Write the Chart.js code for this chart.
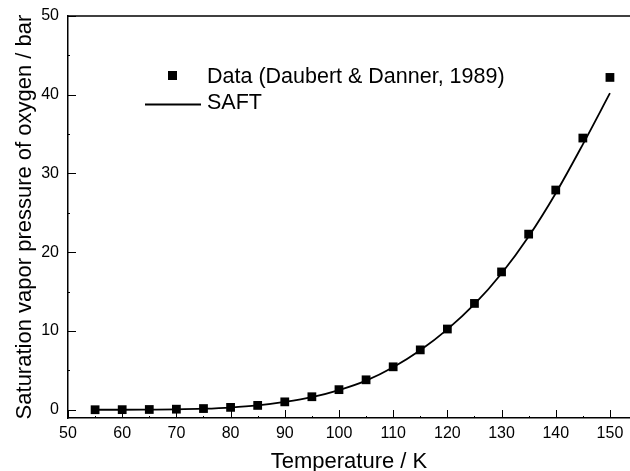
<!DOCTYPE html>
<html>
<head>
<meta charset="utf-8">
<script src="https://cdn.jsdelivr.net/npm/chart.js@4"></script>
<style>
  html, body { margin: 0; padding: 0; background: #fff; }
  #wrap { width: 630px; height: 471px; }
</style>
</head>
<body>
<div id="wrap"><canvas id="myChart"></canvas></div>
<script>
// temperatures (K)
const temps = [55, 60, 65, 70, 75, 80, 85, 90, 95, 100, 105, 110, 115, 120, 125, 130, 135, 140, 145, 150]
// Daubert & Danner data (bar)
const dataPress = [0.0, 0.01, 0.03, 0.07, 0.15, 0.3, 0.55, 1.0, 1.65, 2.55, 3.8, 5.45, 7.6, 10.25, 13.5, 17.5, 22.3, 27.9, 34.5, 42.2]
// SAFT curve (bar)
const saftPress = [0.0, 0.0, 0.02, 0.05, 0.13, 0.28, 0.55, 1.0, 1.6, 2.5, 3.7, 5.4, 7.55, 10.2, 13.4, 17.3, 22.0, 27.5, 33.7, 40.2]
const xTicks = [50, 60, 70, 80, 90, 100, 110, 120, 130, 140, 150]
const yTicks = [0, 10, 20, 30, 40, 50]

const font = "'Liberation Sans', Arial, sans-serif"

function toXY(xs, ys) {
    return xs.map((x, i) => ({ x: x, y: ys[i] }))
}

// inward ticks, top frame and in-plot legend
const framePlugin = {
    id: 'frame',
    afterDraw(chart) {
        const ctx = chart.ctx
        const a = chart.chartArea
        const xs = chart.scales.x
        const ys = chart.scales.y
        ctx.save()
        ctx.strokeStyle = '#000'
        ctx.lineWidth = 1.5
        ctx.beginPath()
        ctx.moveTo(a.left, a.top)
        ctx.lineTo(a.right, a.top)
        ctx.stroke()

        ctx.lineWidth = 1
        ctx.beginPath()
        for (let v = 50; v <= 150; v += 5) {
            const px = Math.round(xs.getPixelForValue(v)) + 0.5
            const len = v % 10 === 0 ? 8 : 2
            ctx.moveTo(px, a.bottom)
            ctx.lineTo(px, a.bottom - len)
        }
        for (let v = 0; v <= 50; v += 5) {
            const py = Math.round(ys.getPixelForValue(v)) + 0.5
            const len = v % 10 === 0 ? 8 : 2
            ctx.moveTo(a.left, py)
            ctx.lineTo(a.left + len, py)
        }
        ctx.stroke()

        // legend
        ctx.fillStyle = '#000'
        ctx.fillRect(168, 71, 9, 9)
        ctx.lineWidth = 1.8
        ctx.beginPath()
        ctx.moveTo(145, 104.5)
        ctx.lineTo(201, 104.5)
        ctx.stroke()
        ctx.font = '21.5px ' + font
        ctx.textBaseline = 'alphabetic'
        ctx.textAlign = 'left'
        ctx.fillText('Data (Daubert & Danner, 1989)', 207, 83)
        ctx.fillText('SAFT', 207, 109)
        ctx.restore()
    }
}

new Chart(document.getElementById('myChart'), {
    type: 'scatter',
    data: {
        datasets: [
            {
                label: 'SAFT',
                type: 'line',
                data: toXY(temps, saftPress),
                borderColor: '#000',
                borderWidth: 1.8,
                pointRadius: 0,
                cubicInterpolationMode: 'monotone',
                fill: false,
                order: 2
            },
            {
                label: 'Data (Daubert & Danner, 1989)',
                data: toXY(temps, dataPress),
                pointStyle: 'rect',
                pointRadius: 6.2,
                backgroundColor: '#000',
                borderColor: '#000',
                borderWidth: 0,
                order: 1
            }
        ]
    },
    options: {
        responsive: true,
        maintainAspectRatio: false,
        animation: false,
        layout: { autoPadding: false, padding: { top: 16, right: 0, left: 0, bottom: 0 } },
        plugins: {
            legend: { display: false },
            tooltip: { enabled: false }
        },
        scales: {
            x: {
                type: 'linear',
                min: 50,
                max: 153.7,
                afterBuildTicks: (s) => { s.ticks = xTicks.map(v => ({ value: v })) },
                afterFit: (s) => { s.height = 53; s.paddingRight = 0; s.paddingLeft = 0 },
                grid: { display: false, drawTicks: false },
                border: { display: true, color: '#000', width: 1.5 },
                ticks: { color: '#000', padding: 6, font: { family: font, size: 16 }, maxRotation: 0 },
                title: { display: true, text: 'Temperature / K', color: '#000', font: { family: font, size: 22 }, padding: { top: 0, bottom: -4 } }
            },
            y: {
                type: 'linear',
                min: -1.05,
                max: 50,
                afterBuildTicks: (s) => { s.ticks = yTicks.map(v => ({ value: v })) },
                afterFit: (s) => { s.width = 68; s.paddingTop = 0; s.paddingBottom = 0 },
                grid: { display: false, drawTicks: false },
                border: { display: true, color: '#000', width: 1.5 },
                ticks: { color: '#000', padding: 9, font: { family: font, size: 16 } },
                title: { display: true, text: 'Saturation vapor pressure of oxygen / bar', color: '#000', font: { family: font, size: 22 }, padding: { top: 12, bottom: 0 } }
            }
        }
    },
    plugins: [framePlugin]
})
</script>
</body>
</html>
